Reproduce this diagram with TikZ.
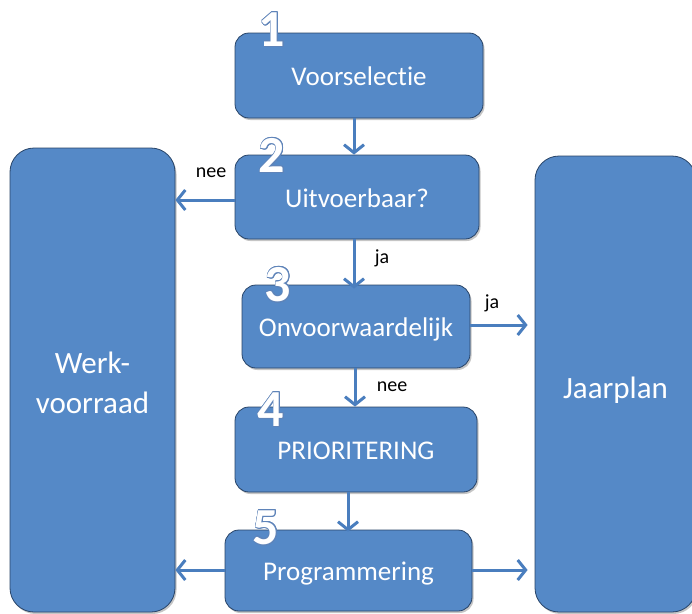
\documentclass[tikz,border=0pt]{standalone}
\usepackage{fontspec}
\setmainfont{Carlito}[Ligatures={NoCommon}]
\usepackage[copies]{contour}
\contourlength{0.8pt}
\usetikzlibrary{arrows.meta,shadows}
\definecolor{boxblue}{RGB}{85,137,199}
\definecolor{boxedge}{RGB}{40,68,104}
\definecolor{arrowblue}{RGB}{74,126,190}
\definecolor{digitedge}{RGB}{95,132,185}
\begin{document}
\begin{tikzpicture}[x=1pt,y=-1pt,
  blk/.style={rounded corners=14pt, fill=boxblue, draw=boxedge, line width=0.8pt,
    text=white, inner sep=0pt, font=\fontsize{27}{32}\selectfont,
    text height=25.6pt, text depth=5.2pt,
    drop shadow={shadow xshift=1.5pt,shadow yshift=-2pt,opacity=0.45}},
  tall/.style={blk, rounded corners=24pt, font=\fontsize{31}{40}\selectfont, align=center,
    text height=, text depth=},
  arr/.style={draw=arrowblue, line width=3pt,
    -{Straight Barb[length=8pt,width=20pt,line width=3pt]}},
  lbl/.style={font=\fontsize{20}{24}\selectfont, text=black, inner sep=0pt},
  dig/.style={font=\fontsize{52}{60}\selectfont\bfseries, text=white, inner sep=0pt}
]
\useasboundingbox (0,0) rectangle (692,613);
\fill[white] (0,0) rectangle (692,613);

% side panels
\node[tall, minimum width=165, minimum height=464] (W) at (92.5,380) {\rule{0pt}{28pt}Werk-\\voorraad};
\node[tall, minimum width=161, minimum height=456, text height=31pt, text depth=3pt] (J) at (615.5,384) {Jaarplan};

% step boxes
\node[blk, minimum width=248, minimum height=85] (b1) at (359,75.5) {Voorselectie};
\node[blk, minimum width=244, minimum height=84] (b2) at (357,197) {Uitvoerbaar?};
\node[blk, minimum width=228, minimum height=83] (b3) at (356,326.5) {Onvoorwaardelijk};
\node[blk, minimum width=242, minimum height=85] (b4) at (356,449.5) {PRIORITERING};
\node[blk, minimum width=247, minimum height=81] (b5) at (348.5,570.5) {Programmering};

% step numbers
\node[dig] (n1) at (272,30) {\contour{digitedge}{1}};
\node[dig] (n2) at (272,156) {\contour{digitedge}{2}};
\node[dig] (n3) at (278,285) {\contour{digitedge}{3}};
\node[dig] (n4) at (271,410) {\contour{digitedge}{4}};
\node[dig] (n5) at (266,528) {\contour{digitedge}{5}};

% connectors
\draw[arr] (b1.south -| 354,0) -- (b2.north -| 354,0);
\draw[arr] (b2.west |- 0,200) -- (W.east |- 0,200);
\draw[arr] (b2.south -| 354,0) -- ([yshift=-4pt]b3.north -| 354,0);
\draw[arr] (b3.east |- 0,325) -- ([xshift=-7pt]J.west |- 0,325);
\draw[arr] (b3.south -| 355,0) -- (b4.north -| 355,0);
\draw[arr] (b4.south -| 348,0) -- ([yshift=-2pt]b5.north -| 348,0);
\draw[arr] (b5.west |- 0,570) -- (W.east |- 0,570);
\draw[arr] (b5.east |- 0,570) -- ([xshift=-7pt]J.west |- 0,570);

% connector labels
\node[lbl] (lnee1) at (211,173) {nee};
\node[lbl] (lja1) at (382,258) {ja};
\node[lbl] (lja2) at (492,303) {ja};
\node[lbl] (lnee2) at (392,387) {nee};
\end{tikzpicture}
\end{document}
